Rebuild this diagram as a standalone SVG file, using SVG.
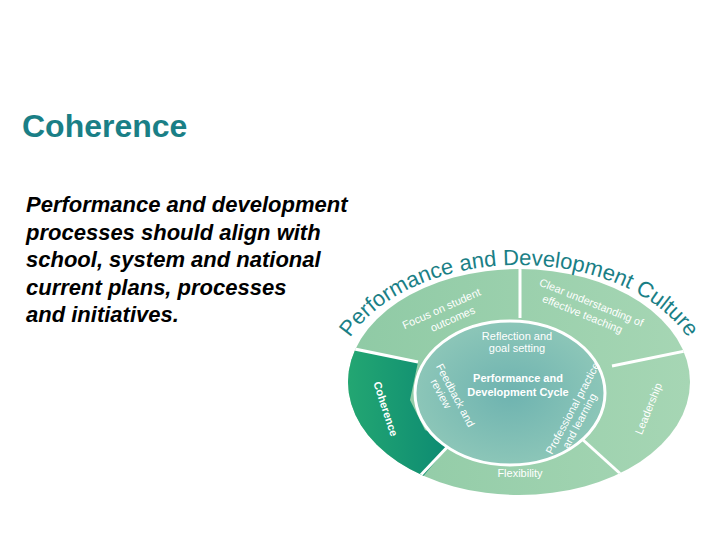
<svg xmlns="http://www.w3.org/2000/svg" width="720" height="540" viewBox="0 0 720 540">
<style>
.t{font-family:"Liberation Sans",Arial,sans-serif}
.w{font-family:"Liberation Sans",Arial,sans-serif;fill:#fff;font-size:11px}
.div{stroke:#fff;stroke-width:3}
</style>
<defs>
<clipPath id="oc"><ellipse cx="519" cy="382" rx="171" ry="113"/></clipPath>
<linearGradient id="og" x1="0" y1="0" x2="1" y2="0"><stop offset="0" stop-color="#8fcaa5"/><stop offset="1" stop-color="#a6d6b4"/></linearGradient>
<linearGradient id="cg" x1="0" y1="0" x2="1" y2="0"><stop offset="0" stop-color="#27ab72"/><stop offset="1" stop-color="#0c8a72"/></linearGradient>
<radialGradient id="ig"><stop offset="0" stop-color="#6eb3b0"/><stop offset="1" stop-color="#8cc6b8"/></radialGradient>
<path id="arc" d="M 334,388 A 185 123 0 0 1 704,388"/>
</defs>
<text class="t" x="22" y="137" font-size="32" font-weight="bold" fill="#1a7f86">Coherence</text>
<g class="t" font-size="22" font-style="italic" font-weight="bold" fill="#000">
<text x="26" y="212">Performance and development</text>
<text x="26" y="240">processes should align with</text>
<text x="26" y="267">school, system and national</text>
<text x="26" y="295">current plans, processes</text>
<text x="26" y="322">and initiatives.</text>
</g>
<g id="wheel">
<ellipse cx="519" cy="382" rx="171" ry="113" fill="url(#og)"/>
<g clip-path="url(#oc)">
<polygon id="coherence-seg" points="330,345 418,362 410,400 425,430 452,442 420,480 330,480" fill="url(#cg)"/>
<g id="dividers">
<line class="div" x1="520" y1="260" x2="520" y2="318"/>
<line class="div" x1="340" y1="346" x2="418" y2="362"/>
<line class="div" x1="612" y1="366" x2="700" y2="348"/>
<line class="div" x1="582" y1="439" x2="625" y2="478"/>
<line class="div" x1="452" y1="442" x2="418" y2="478"/>
</g>
</g>
<ellipse id="inner" cx="510" cy="393" rx="95" ry="72" fill="url(#ig)" stroke="#fff" stroke-width="3"/>
</g>
<text class="t" font-size="22" fill="#1a7f86"><textPath href="#arc" startOffset="50%" text-anchor="middle">Performance and Development Culture</textPath></text>
<g id="labels">
<text class="w" transform="translate(443,312) rotate(-24)" text-anchor="middle" font-size="12"><tspan x="0" y="0">Focus on student</tspan><tspan x="6" y="14">outcomes</tspan></text>
<text class="w" transform="translate(590,306) rotate(22)" text-anchor="middle" font-size="12"><tspan x="0" y="0">Clear understanding of</tspan><tspan x="-4" y="14">effective teaching</tspan></text>
<text class="w" transform="translate(652,410) rotate(-68)" text-anchor="middle" font-size="13">Leadership</text>
<text class="w" x="520" y="477" text-anchor="middle" font-size="12">Flexibility</text>
<text class="w" transform="translate(382,410) rotate(72)" text-anchor="middle" font-size="14" font-weight="bold">Coherence</text>
<text class="w" text-anchor="middle" font-size="9.5"><tspan x="517" y="340">Reflection and</tspan><tspan x="517" dy="12">goal setting</tspan></text>
<text class="w" x="518" y="382" text-anchor="middle" font-weight="bold" font-size="11" fill="#eef6f4"><tspan x="518">Performance and</tspan><tspan x="518" dy="14">Development Cycle</tspan></text>
<text class="w" transform="translate(452,397) rotate(62)" text-anchor="middle" font-size="10"><tspan x="0" y="0">Feedback and</tspan><tspan x="-8" y="12">review</tspan></text>
<text class="w" transform="translate(576,410) rotate(-62)" text-anchor="middle" font-size="10"><tspan x="0" y="0">Professional practice</tspan><tspan x="-8" y="12">and learning</tspan></text>
</g>
</svg>
